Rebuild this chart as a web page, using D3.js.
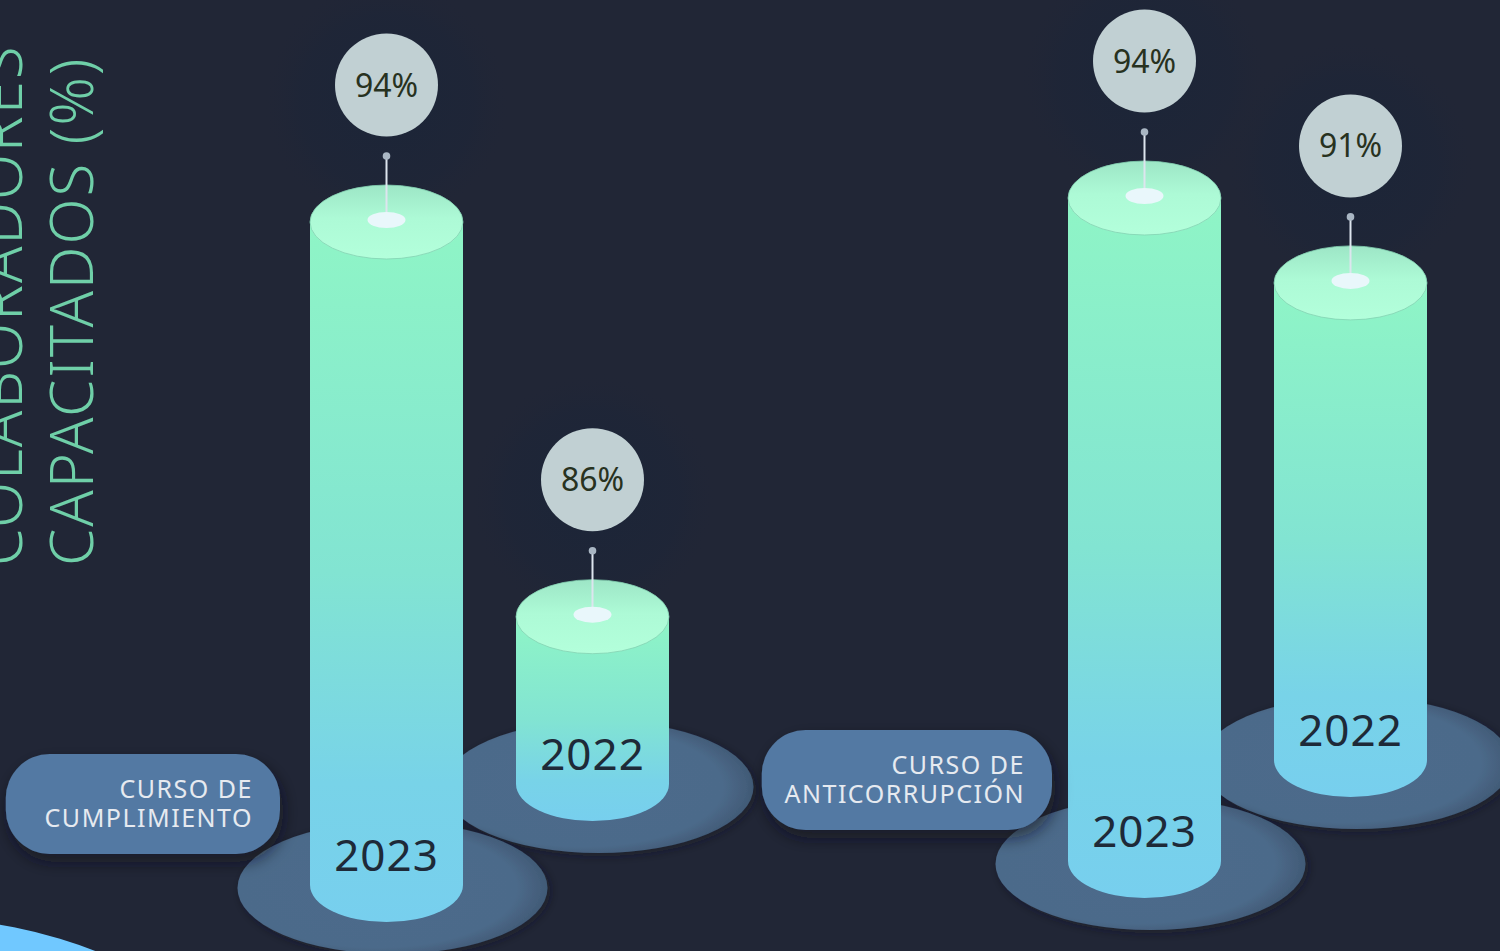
<!DOCTYPE html>
<html>
<head>
<meta charset="utf-8">
<script src="https://cdn.jsdelivr.net/npm/d3@7"></script>
<style>
  html, body { margin: 0; padding: 0; background: #212636; overflow: hidden; }
  text { font-family: "Noto Sans", "Open Sans", sans-serif; }
</style>
</head>
<body>
<div id="chart"></div>
<script>
let w = 1500;
let h = 951;

// chart values
const courses = [["CURSO DE", "CUMPLIMIENTO"], ["CURSO DE", "ANTICORRUPCIÓN"]];
const years = ["2023", "2022"];
const values2023 = [94, 94];
const values2022 = [86, 91];
const titleLines = ["COLABORADORES", "CAPACITADOS (%)"];

// cylinder size
const rx = 76.5;
const ry = 37;

// scales: group centre, offset inside group, floor of group, depth of back bar, bar height
const x0 = d3.scalePoint().domain(d3.range(courses.length)).range([489.5, 1247.5]);
const x1 = d3.scalePoint().domain(years).range([-103, 103]);
const base = d3.scalePoint().domain(d3.range(courses.length)).range([885, 861]);
const depth = d3.scalePoint().domain(years).range([0, -101]);
const hScale = d3.scaleLinear().domain([83.3, 94]).range([0, 663]);
// right edge of each course label
const pillRight = d3.scalePoint().domain(d3.range(courses.length)).range([280, 1052]);

// build one record per cylinder
let bars = [];
courses.forEach(function (c, i) {
  years.forEach(function (yr) {
    const v = yr === "2023" ? values2023[i] : values2022[i];
    const cx = x0(i) + x1(yr);
    const bottom = base(i) + depth(yr);
    bars.push({ course: i, year: yr, value: v, cx: cx, bottom: bottom, top: bottom - hScale(v) });
  });
});

var svg = d3.select("#chart").append("svg").attr("width", w).attr("height", h);
var defs = svg.append("defs");

svg.append("rect").attr("width", w).attr("height", h).attr("fill", "#212636");

// gradients
const body = defs.append("linearGradient").attr("id", "bodyGrad")
  .attr("x1", 0).attr("y1", 0).attr("x2", 0).attr("y2", 1);
[[0, "#8ff5c6"], [0.5, "#82e4d2"], [0.8, "#78d3e8"], [1, "#77cfee"]].forEach(function (s) {
  body.append("stop").attr("offset", s[0]).attr("stop-color", s[1]);
});

const lid = defs.append("linearGradient").attr("id", "lidGrad")
  .attr("x1", 0).attr("y1", 0).attr("x2", 0).attr("y2", 1);
[[0, "#9de6c6"], [0.45, "#adfad6"], [1, "#b3ffdb"]].forEach(function (s) {
  lid.append("stop").attr("offset", s[0]).attr("stop-color", s[1]);
});

const floor = defs.append("radialGradient").attr("id", "floorGrad")
  .attr("cx", 0.45).attr("cy", 0.5).attr("r", 0.55);
[[0, "#4d6b8b"], [0.82, "#4c6a8a"], [1, "#415a76"]].forEach(function (s) {
  floor.append("stop").attr("offset", s[0]).attr("stop-color", s[1]);
});

const glow = defs.append("radialGradient").attr("id", "glowGrad");
[[0, "#1b2538", 0.9], [0.7, "#1c2538", 0.5], [1, "#212636", 0]].forEach(function (s) {
  glow.append("stop").attr("offset", s[0]).attr("stop-color", s[1]).attr("stop-opacity", s[2]);
});

const drop = defs.append("filter").attr("id", "drop")
  .attr("x", "-30%").attr("y", "-30%").attr("width", "160%").attr("height", "160%");
drop.append("feDropShadow").attr("dx", 3).attr("dy", 8).attr("stdDeviation", 8)
  .attr("flood-color", "#0f131d").attr("flood-opacity", 0.6);

const floorDrop = defs.append("filter").attr("id", "floorDrop")
  .attr("x", "-20%").attr("y", "-20%").attr("width", "140%").attr("height", "140%");
floorDrop.append("feDropShadow").attr("dx", 3).attr("dy", 3).attr("stdDeviation", 5)
  .attr("flood-color", "#141925").attr("flood-opacity", 0.45);

// blue circle cut by the lower left corner
svg.append("circle").attr("cx", -80).attr("cy", 1400).attr("r", 482).attr("fill", "#70c8ff");

// faint halos behind bubbles
svg.selectAll("circle.glow")
  .data(bars)
  .enter()
  .append("circle")
  .attr("class", "glow")
  .attr("cx", d => d.cx)
  .attr("cy", d => d.top - 120)
  .attr("r", 125)
  .attr("fill", "url(#glowGrad)");

// title
svg.selectAll("text.title")
  .data(titleLines)
  .enter()
  .append("text")
  .attr("class", "title")
  .attr("transform", (d, i) => "translate(" + (22 + i * 71) + ",566) rotate(-90)")
  .attr("fill", "#6fcfa8")
  .attr("font-size", 60)
  .attr("font-weight", 300)
  .attr("letter-spacing", 1.9)
  .text(d => d);

// cylinders, group by group, back bar first
courses.forEach(function (c, i) {
  const group = bars.filter(d => d.course === i).reverse();
  group.forEach(function (d) {
    const g = svg.append("g").attr("class", "bar");
    g.append("ellipse")
      .attr("cx", d.cx + 6).attr("cy", d.bottom + 3)
      .attr("rx", 155).attr("ry", 66)
      .attr("fill", "url(#floorGrad)")
      .attr("filter", "url(#floorDrop)");
    g.append("path")
      .attr("d", "M" + (d.cx - rx) + "," + d.top +
        "L" + (d.cx - rx) + "," + d.bottom +
        "A" + rx + "," + ry + " 0 0 0 " + (d.cx + rx) + "," + d.bottom +
        "L" + (d.cx + rx) + "," + d.top + "Z")
      .attr("fill", "url(#bodyGrad)");
    g.append("ellipse")
      .attr("cx", d.cx).attr("cy", d.top)
      .attr("rx", rx).attr("ry", ry)
      .attr("fill", "url(#lidGrad)")
      .attr("stroke", "#84d2b3").attr("stroke-width", 0.8);
    g.append("text")
      .attr("x", d.cx).attr("y", d.bottom - 14)
      .attr("text-anchor", "middle")
      .attr("fill", "#1e2a38")
      .attr("font-size", 44)
      .attr("letter-spacing", 1)
      .text(d.year);
  });

  // course label pill
  const pill = svg.append("g").attr("class", "pill");
  const rect = pill.append("rect").attr("fill", "#5379a3").attr("filter", "url(#drop)");
  const right = pillRight(i);
  const cy = base(i) - 81;
  let widest = 0;
  c.forEach(function (line, k) {
    const t = pill.append("text")
      .attr("x", right - 27).attr("y", cy - 6 + k * 29)
      .attr("text-anchor", "end")
      .attr("fill", "#e6eaf0")
      .attr("font-size", 25)
      .attr("letter-spacing", 1.5)
      .text(line);
    widest = Math.max(widest, t.node().getComputedTextLength());
  });
  const pw = widest * 0.5 + 170;
  rect.attr("x", right - pw).attr("y", cy - 50)
    .attr("width", pw).attr("height", 100)
    .attr("rx", 44).attr("ry", 44);
});

// value bubbles with pins
const pins = svg.selectAll("g.pin")
  .data(bars)
  .enter()
  .append("g")
  .attr("class", "pin");

pins.append("line")
  .attr("x1", d => d.cx).attr("x2", d => d.cx)
  .attr("y1", d => d.top - 66).attr("y2", d => d.top - 2)
  .attr("stroke", "#dde5ee").attr("stroke-width", 2);
pins.append("circle")
  .attr("cx", d => d.cx).attr("cy", d => d.top - 66)
  .attr("r", 3.8).attr("fill", "#a9b6c3");
pins.append("ellipse")
  .attr("cx", d => d.cx).attr("cy", d => d.top - 2)
  .attr("rx", 19).attr("ry", 8)
  .attr("fill", "#e9f7fb");
pins.append("circle")
  .attr("cx", d => d.cx).attr("cy", d => d.top - 137)
  .attr("r", 51.5).attr("fill", "#c1d0d3");
pins.append("text")
  .attr("x", d => d.cx).attr("y", d => d.top - 137)
  .attr("dy", "0.36em")
  .attr("text-anchor", "middle")
  .attr("fill", "#28321f")
  .attr("font-size", 32)
  .text(d => d.value + "%");
</script>
</body>
</html>
